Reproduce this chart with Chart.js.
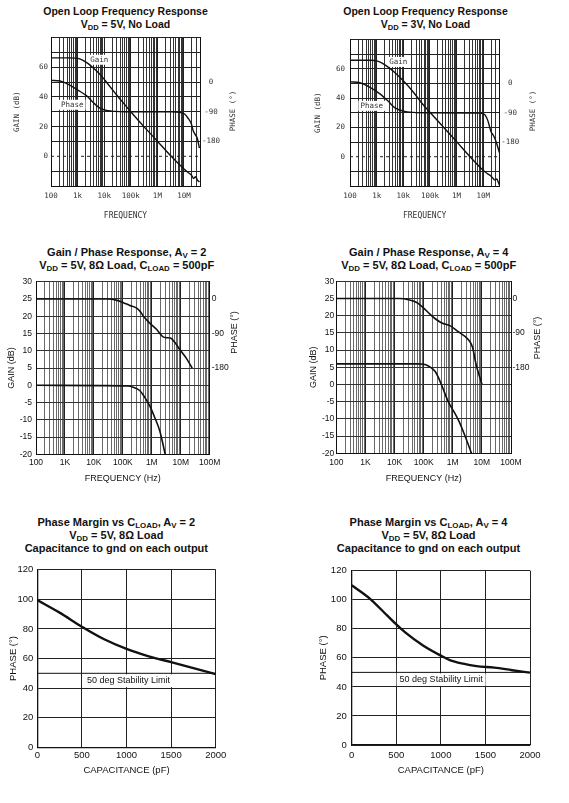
<!DOCTYPE html>
<html>
<head>
<meta charset="utf-8">
<script src="https://cdn.jsdelivr.net/npm/chart.js@4.4.1/dist/chart.umd.min.js"></script>
<style>
body { margin: 0; background: #fff; width: 569px; height: 803px; position: relative; overflow: hidden; font-family: "Liberation Sans", Arial, sans-serif; }
canvas { position: absolute; }
.ttl { position: absolute; width: 280px; font-weight: bold; font-size: 11px; line-height: 13px; text-align: center; color: #111; white-space: nowrap; }
.ttl sub { font-size: 72%; vertical-align: -2px; line-height: 0; }
</style>
</head>
<body>

<div class="ttl" style="left:-14.5px;top:4.5px;font-size:10.5px">Open Loop Frequency Response<br>V<sub>DD</sub> = 5V, No Load</div>
<div class="ttl" style="left:285.5px;top:4.5px;font-size:10.5px">Open Loop Frequency Response<br>V<sub>DD</sub> = 3V, No Load</div>
<div class="ttl" style="left:-13.3px;top:246px">Gain / Phase Response, A<sub>V</sub> = 2<br>V<sub>DD</sub> = 5V, 8&Omega; Load, C<sub>LOAD</sub> = 500pF</div>
<div class="ttl" style="left:288.7px;top:246px">Gain / Phase Response, A<sub>V</sub> = 4<br>V<sub>DD</sub> = 5V, 8&Omega; Load, C<sub>LOAD</sub> = 500pF</div>
<div class="ttl" style="left:-23.7px;top:516px">Phase Margin vs C<sub>LOAD</sub>, A<sub>V</sub> = 2<br>V<sub>DD</sub> = 5V, 8&Omega; Load<br>Capacitance to gnd on each output</div>
<div class="ttl" style="left:288.5px;top:516px">Phase Margin vs C<sub>LOAD</sub>, A<sub>V</sub> = 4<br>V<sub>DD</sub> = 5V, 8&Omega; Load<br>Capacitance to gnd on each output</div>

<canvas id="ol5" width="285" height="200" style="left:0;top:30px"></canvas>
<canvas id="ol3" width="284" height="200" style="left:285px;top:30px"></canvas>
<canvas id="av2" width="285" height="220" style="left:0;top:270px"></canvas>
<canvas id="av4" width="284" height="220" style="left:285px;top:270px"></canvas>
<canvas id="pm2" width="285" height="243" style="left:0;top:560px"></canvas>
<canvas id="pm4" width="284" height="243" style="left:285px;top:560px"></canvas>

<script>
// ---- data ----

// open loop, VDD = 5V
const ol5GainFreq = [100, 500, 900, 1400, 2500, 4500, 8000, 14000, 25000, 45000, 100000, 300000, 1e6, 3.3e6, 1e7, 1.4e7, 1.9e7, 2.3e7, 2.7e7, 3.2e7, 3.8e7];
const ol5Gain     = [66.3, 66.3, 66.1, 65.1, 62.4, 58.4, 54, 48.5, 42.9, 37.3, 30, 20.3, 10.2, 0, -8.5, -10.8, -12.7, -14.9, -13.8, -16, -17.3];
const ol5PhaseFreq = [100, 220, 450, 1050, 2200, 3850, 6900, 14000, 25000, 60000, 3.4e6, 6.8e6, 1.05e7, 1.4e7, 1.9e7, 2.2e7, 2.55e7, 3.2e7, 3.8e7];
const ol5Phase     = [5, 3, -7, -25, -42, -62, -79, -87, -89, -90, -90, -92, -97, -109, -127, -147, -157, -172, -200];

// open loop, VDD = 3V
const ol3GainFreq = [100, 600, 1000, 1540, 2700, 4900, 10000, 24000, 50000, 100000, 1e6, 3.2e6, 1e7, 1.4e7, 1.8e7, 2.4e7, 2.7e7, 3.2e7, 3.6e7, 4e7];
const ol3Gain     = [65.8, 65.8, 65.4, 64, 61.1, 57.3, 51.8, 44, 36.5, 30.3, 10.3, 0, -9.3, -11.5, -12.7, -15, -16, -15.2, -17, -19.3];
const ol3PhaseFreq = [100, 237, 562, 1330, 2740, 4870, 10000, 23700, 75000, 7.5e6, 1e7, 1.2e7, 1.5e7, 1.75e7, 2e7, 2.3e7, 2.6e7, 3e7, 3.5e7, 4e7];
const ol3Phase     = [5, 2, -12, -32, -55, -75, -85, -89, -90, -91, -93, -98, -115, -135, -150, -157, -165, -178, -195, -212];

// gain / phase, Av = 2
const av2GainFreq = [100, 20000, 150000, 230000, 390000, 570000, 850000, 1.27e6, 1.9e6, 2.9e6];
const av2Gain     = [0, -0.1, -0.2, -0.6, -1.6, -3.5, -6, -9.4, -13.3, -20];
const av2PhaseFreq = [100, 30000, 60000, 100000, 174000, 300000, 400000, 550000, 850000, 1.45e6, 2.45e6, 3.3e6, 4.4e6, 6.2e6, 9.3e6, 1.57e7, 2.5e7];
const av2Phase     = [0, 0, -3, -9, -17, -24, -33, -48, -63, -79, -99, -101, -102, -113, -132, -155, -181];

// gain / phase, Av = 4
const av4GainFreq = [100, 60000, 100000, 145000, 200000, 275000, 410000, 530000, 690000, 1.2e6, 1.7e6, 2.7e6, 4.4e6];
const av4Gain     = [6, 6, 5.9, 5.4, 4.6, 3.2, -0.1, -2.5, -4.9, -8.5, -11, -15.2, -20];
const av4PhaseFreq = [100, 15000, 30000, 56000, 100000, 160000, 250000, 420000, 800000, 1.5e6, 2.7e6, 3.8e6, 4.8e6, 6.3e6, 8e6, 1e7];
const av4Phase     = [0, 0, -3, -10, -25, -40, -53, -64, -71, -86, -100, -112, -128, -172, -200, -224];

// phase margin vs load capacitance
const pm2Cap   = [0, 250, 500, 750, 1000, 1250, 1500, 1750, 2000];
const pm2Phase = [99.5, 91, 81.5, 73, 66.5, 61.5, 57.5, 53.5, 49.5];
const pm4Cap   = [0, 200, 400, 500, 600, 800, 1000, 1100, 1250, 1400, 1600, 1800, 2000];
const pm4Phase = [110, 101, 89, 83, 77.5, 68.5, 61.5, 58.5, 56, 54.3, 53.3, 51.5, 49.8];

// axis labels
const olFreqLabels = ['100', '1k', '10k', '100k', '1M', '10M'];
const clFreqLabels = ['100', '1K', '10K', '100K', '1M', '10M', '100M'];
const olGainLabels = [60, 40, 20, 0];
const clGainLabels = [30, 25, 20, 15, 10, 5, 0, -5, -10, -15, -20];
const phaseLabels = [0, -90, -180];

// ---- helpers ----
const mono = '"DejaVu Sans Mono", monospace';
const sans = '"Liberation Sans", Arial, sans-serif';
const ink = '#111';

Chart.defaults.font.family = sans;

function pts(xs, ys) { return xs.map((x, i) => ({ x: x, y: ys[i] })); }

function isDecade(v) { const l = Math.log10(v); return Math.abs(l - Math.round(l)) < 1e-6; }

// log grid at 1..9 of each decade
function logTicks(min, max) {
    const out = [];
    for (let e = Math.floor(Math.log10(min)); Math.pow(10, e) <= max; e++) {
        for (let m = 1; m <= 9; m++) {
            const v = m * Math.pow(10, e);
            if (v >= min && v <= max * 1.0001) out.push({ value: v });
        }
    }
    if (out[out.length - 1].value < max) out.push({ value: max });
    return out;
}

// draws the extras the library has no option for
const overlay = {
    id: 'overlay',
    beforeDatasetsDraw(chart, args, o) {
        const { ctx, chartArea: a, scales } = chart;
        ctx.save();
        if (o.zero) {
            const y = scales.y.getPixelForValue(0);
            ctx.strokeStyle = '#222'; ctx.lineWidth = 1; ctx.setLineDash([3, 3]);
            ctx.beginPath(); ctx.moveTo(a.left, y); ctx.lineTo(a.right, y); ctx.stroke();
            ctx.setLineDash([]);
        }
        if (o.limit) {
            const L = o.limit;
            const y50 = scales.y.getPixelForValue(L.value);
            ctx.strokeStyle = ink; ctx.lineWidth = 1;
            ctx.beginPath(); ctx.moveTo(a.left, y50); ctx.lineTo(a.right, y50); ctx.stroke();
            ctx.font = L.font;
            const w = ctx.measureText(L.text).width;
            const cx = scales.x.getPixelForValue(L.x);
            const y40 = scales.y.getPixelForValue(L.value - 10);
            ctx.fillStyle = '#fff';
            ctx.fillRect(cx - w / 2 - 3, y50 + 1, w + 6, y40 - y50 - 2);
            ctx.fillStyle = ink; ctx.textAlign = 'center'; ctx.textBaseline = 'middle';
            ctx.fillText(L.text, cx, scales.y.getPixelForValue(L.y));
        }
        if (o.notes) {
            ctx.font = o.noteFont; ctx.textAlign = 'center'; ctx.textBaseline = 'middle';
            o.notes.forEach(n => {
                const x = scales.x.getPixelForValue(n.x), y = scales.y.getPixelForValue(n.y);
                const w = ctx.measureText(n.text).width;
                ctx.fillStyle = '#fff';
                ctx.fillRect(x - w / 2 - 2, y - 5, w + 4, 10);
                ctx.fillStyle = '#333';
                ctx.fillText(n.text, x, y);
            });
        }
        ctx.restore();
    },
    afterDraw(chart, args, o) {
        if (!o.side) return;
        const { ctx } = chart, s = o.side;
        ctx.save();
        ctx.translate(s.x, s.y); ctx.rotate(-Math.PI / 2);
        ctx.font = s.font; ctx.fillStyle = s.color;
        ctx.textAlign = 'center'; ctx.textBaseline = 'middle';
        ctx.fillText(s.text, 0, 0);
        ctx.restore();
    }
};
Chart.register(overlay);

function bodeChart(id, g, o) {
    const line = { borderColor: ink, borderWidth: o.lw, pointRadius: 0, fill: false, cubicInterpolationMode: 'monotone' };
    return new Chart(document.getElementById(id), {
        type: 'line',
        data: {
            datasets: [
                Object.assign({ data: pts(o.gainF, o.gain), yAxisID: 'y' }, line),
                Object.assign({ data: pts(o.phaseF, o.phase), yAxisID: 'y2' }, line)
            ]
        },
        options: {
            responsive: false, animation: false, events: [],
            layout: { padding: { top: g.top, left: 0, right: 0, bottom: 0 } },
            plugins: { legend: { display: false }, tooltip: { enabled: false }, overlay: o.overlay },
            scales: {
                x: {
                    type: 'logarithmic', min: o.fMin, max: o.fMax,
                    afterBuildTicks: s => { s.ticks = logTicks(s.min, s.max); },
                    afterFit: s => { s.height = g.h - g.bottom; },
                    grid: { color: c => isDecade(c.tick.value) ? o.major : o.minor, lineWidth: 1, drawTicks: false },
                    border: { color: ink, width: 1 },
                    ticks: { autoSkip: false, maxRotation: 0, padding: o.xPad, font: o.tickFont, color: o.text,
                             callback: v => isDecade(v) ? o.fLabels[Math.round(Math.log10(v)) - 2] : '' },
                    title: { display: true, text: o.xTitle, font: o.xTitleFont, color: o.text, padding: { top: 0, bottom: o.xTitlePad } }
                },
                y: {
                    position: 'left', min: o.gMin, max: o.gMax,
                    afterFit: s => { s.width = g.left; },
                    grid: { color: c => (o.overlay.zero && c.tick.value === 0) ? 'rgba(0,0,0,0)' : o.hgrid, lineWidth: 1, drawTicks: false },
                    border: { color: ink, width: 1 },
                    ticks: { stepSize: o.gStep, padding: o.yPad, font: o.tickFont, color: o.text,
                             callback: v => o.gLabels.includes(v) ? String(v) : '' },
                    title: { display: true, text: 'GAIN (dB)', font: o.titleFont, color: o.text, padding: { top: o.yTitlePad, bottom: 0 } }
                },
                y2: {
                    position: 'right', min: o.pMin, max: o.pMax,
                    afterFit: s => { s.width = g.w - g.right; },
                    grid: { display: false, drawTicks: false },
                    border: { display: true, color: ink, width: 1 },
                    ticks: { stepSize: 45, padding: o.pPad, crossAlign: o.pAlign, font: o.tickFont, color: o.text,
                             callback: v => phaseLabels.includes(v) ? String(v) : '' }
                }
            }
        }
    });
}

function marginChart(id, g, caps, phase, o) {
    return new Chart(document.getElementById(id), {
        type: 'line',
        data: {
            datasets: [{ data: pts(caps, phase), borderColor: ink, borderWidth: 2.4, pointRadius: 0, fill: false, cubicInterpolationMode: 'monotone' }]
        },
        options: {
            responsive: false, animation: false, events: [],
            layout: { padding: { top: g.top, left: 0, right: g.w - g.right, bottom: 0 } },
            plugins: { legend: { display: false }, tooltip: { enabled: false }, overlay: o.overlay },
            scales: {
                x: {
                    type: 'linear', min: 0, max: 2000,
                    afterFit: s => { s.height = g.h - g.bottom; },
                    grid: { color: '#222', lineWidth: 1, drawTicks: false },
                    border: { color: ink, width: 1.3 },
                    ticks: { stepSize: 500, padding: o.xPad, font: { size: 9.5 }, color: ink, maxRotation: 0, callback: v => String(v) },
                    title: { display: true, text: 'CAPACITANCE (pF)', font: { size: 9.5 }, color: ink, padding: { top: 0, bottom: o.xTitlePad } }
                },
                y: {
                    min: 0, max: 120,
                    afterFit: s => { s.width = g.left; },
                    grid: { color: '#222', lineWidth: 1, drawTicks: false },
                    border: { color: ink, width: 1.3 },
                    ticks: { stepSize: 20, padding: o.yPad, font: { size: 9.5 }, color: ink, callback: v => String(v) },
                    title: { display: true, text: 'PHASE (°)', font: { size: 9.5 }, color: ink, padding: { top: o.yTitlePad, bottom: 0 } }
                }
            }
        }
    });
}

// ---- open loop charts ----
const olStyle = {
    fMin: 100, fMax: 4e7, fLabels: olFreqLabels,
    gMin: -20, gMax: 80, gStep: 10, gLabels: olGainLabels,
    pMin: -315, pMax: 135, pAlign: 'center', pPad: 2,
    lw: 1.4, major: '#222', minor: '#333', hgrid: '#222', text: '#333',
    tickFont: { family: mono, size: 7.5 }, titleFont: { family: mono, size: 7.5 }, xTitleFont: { family: mono, size: 8 },
    xTitle: 'FREQUENCY', xPad: 6, xTitlePad: 9
};

bodeChart('ol5', { w: 285, h: 200, left: 51, top: 6, right: 200, bottom: 156 }, Object.assign({}, olStyle, {
    gainF: ol5GainFreq, gain: ol5Gain, phaseF: ol5PhaseFreq, phase: ol5Phase,
    yPad: 3, yTitlePad: 13,
    overlay: { zero: true, noteFont: '7.5px ' + mono,
               notes: [{ text: 'Gain', x: 6500, y: 65 }, { text: 'Phase', x: 630, y: 34.7 }],
               side: { text: 'PHASE (°)', x: 233, y: 81, font: '7.5px ' + mono, color: '#333' } }
}));

bodeChart('ol3', { w: 284, h: 200, left: 65, top: 6, right: 214.3, bottom: 156 }, Object.assign({}, olStyle, {
    gainF: ol3GainFreq, gain: ol3Gain, phaseF: ol3PhaseFreq, phase: ol3Phase,
    yPad: 5, yTitlePad: 28.5,
    overlay: { zero: true, noteFont: '7.5px ' + mono,
               notes: [{ text: 'Gain', x: 6500, y: 64.7 }, { text: 'Phase', x: 650, y: 34.7 }],
               side: { text: 'PHASE (°)', x: 248.3, y: 81, font: '7.5px ' + mono, color: '#333' } }
}));

// ---- closed loop gain / phase charts ----
const clStyle = {
    fMin: 100, fMax: 1e8, fLabels: clFreqLabels,
    gMin: -20, gMax: 30, gStep: 5, gLabels: clGainLabels,
    pMin: -405, pMax: 45, pAlign: 'near',
    lw: 1.6, major: '#222', minor: '#6a6a6a', hgrid: '#333', text: ink,
    tickFont: { size: 8.5 }, titleFont: { size: 9 }, xTitleFont: { size: 9 },
    xTitle: 'FREQUENCY (Hz)', xTitlePad: 6.3
};

bodeChart('av2', { w: 285, h: 220, left: 36, top: 11.7, right: 209.7, bottom: 184.3 }, Object.assign({}, clStyle, {
    gainF: av2GainFreq, gain: av2Gain, phaseF: av2PhaseFreq, phase: av2Phase,
    xPad: 3.3, yPad: 4, yTitlePad: 6.3, pPad: 2,
    overlay: { side: { text: 'PHASE (°)', x: 235, y: 62.5, font: '9px ' + sans, color: ink } }
}));

bodeChart('av4', { w: 284, h: 220, left: 51.3, top: 11.3, right: 226, bottom: 183.3 }, Object.assign({}, clStyle, {
    gainF: av4GainFreq, gain: av4Gain, phaseF: av4PhaseFreq, phase: av4Phase,
    xPad: 4.3, yPad: 2, yTitlePad: 22.9, pPad: 1.5,
    overlay: { side: { text: 'PHASE (°)', x: 252.7, y: 68, font: '9px ' + sans, color: ink } }
}));

// ---- phase margin charts ----
marginChart('pm2', { w: 285, h: 243, left: 37.3, top: 9, right: 215.7, bottom: 187.3 }, pm2Cap, pm2Phase, {
    xPad: 2.7, xTitlePad: 26.6, yPad: 4, yTitlePad: 7.3,
    overlay: { limit: { value: 50, text: '50 deg Stability Limit', x: 1022, y: 44.8, font: '9px ' + sans } }
});

marginChart('pm4', { w: 284, h: 243, left: 66.7, top: 6.7, right: 245, bottom: 185 }, pm4Cap, pm4Phase, {
    xPad: 5, xTitlePad: 27.3, yPad: 5, yTitlePad: 32.9,
    overlay: { limit: { value: 50, text: '50 deg Stability Limit', x: 1003, y: 44.9, font: '9px ' + sans } }
});
</script>
</body>
</html>
